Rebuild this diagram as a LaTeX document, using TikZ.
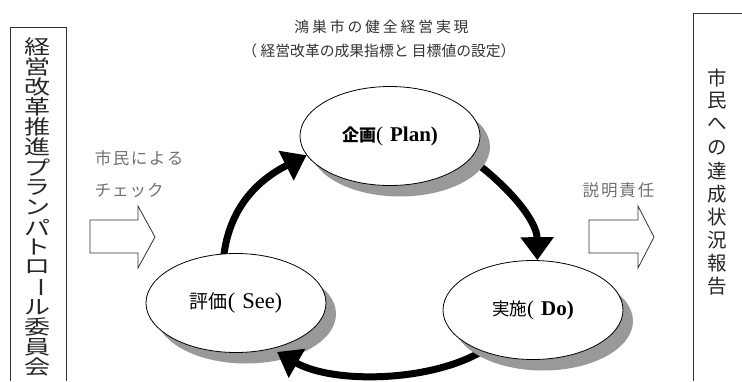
\documentclass[tikz,border=0pt]{standalone}
\usepackage{fontspec}
\usepackage{graphicx}
\setmainfont{Liberation Serif}
\newfontfamily\jp{Noto Sans CJK JP}
\usetikzlibrary{shapes.geometric,arrows.meta,shadows}
\definecolor{shadowgray}{HTML}{999999}
\definecolor{titlegray}{HTML}{333333}
\definecolor{labelgray}{HTML}{707070}
\definecolor{linegray}{HTML}{333333}
\pgfdeclarelayer{arrA}
\pgfdeclarelayer{ellA}
\pgfdeclarelayer{arrB}
\pgfdeclarelayer{ellB}
\pgfsetlayers{arrA,ellA,arrB,ellB,main}
\makeatletter
\newcommand\hspaced[2]{\@tfor\hsch:=#2\do{\makebox[#1]{\hsch}}}
\newcommand\vstackx[3]{\vbox{\offinterlineskip\@tfor\vsch:=#3\do{\hbox to 40pt{\hss\vbox to #1{\vss\hbox{\scalebox{#2}[1]{\vsch}}\vss}\hss}}}}
\makeatother
\newcommand\vbarch{\rotatebox[origin=c]{-90}{ー}}
\begin{document}
\begin{tikzpicture}[x=1pt,y=-1pt,
  ell/.style={ellipse,draw=black,line width=0.8pt,fill=white,minimum width=180pt,minimum height=99pt,inner sep=0pt,
    drop shadow={shadow xshift=10pt,shadow yshift=-11pt,fill=shadowgray,opacity=1,draw=none}},
  bigarrow/.style={line width=7pt,-{Triangle[width=32pt,length=23pt]}},
  blockarrow/.style={draw=linegray,line width=0.8pt,fill=white},
  boxline/.style={draw=linegray,line width=0.9pt},
  titletext/.style={font=\jp\fontsize{14.8}{16}\selectfont,text=titlegray,inner sep=0pt},
  sidelabel/.style={font=\jp\fontsize{16.5}{18}\selectfont,text=labelgray,inner sep=0pt},
  stacktext/.style={inner sep=0pt,anchor=north,text=black!85}
]
\useasboundingbox (0,0) rectangle (742,381);

% frames
\draw[boxline] (10,381) -- (10,27) -- (66,27) -- (66,381);
\draw[boxline] (693,381) -- (693,13) -- (742,13);

% vertical texts
\node[stacktext] (leftstack) at (37.5,37) {\jp\fontsize{20}{20}\selectfont\vstackx{20pt}{1.3}{経営改革推進プランパトロ\vbarch ル委員会}};
\node[stacktext] (rightstack) at (717.5,66) {\jp\fontsize{19.5}{20}\selectfont\vstackx{23.2pt}{1}{市民への達成状況報告}};

% title
\node[titletext] (title1) at (381.5,27) {\hspaced{17.7pt}{鴻巣市の健全経営実現}};
\node[titletext] (title2) at (379,51) {（ 経営改革の成果指標と 目標値の設定）};

% side labels
\node[sidelabel,anchor=west] (check1) at (94,158) {\hspaced{18pt}{市民による}};
\node[sidelabel,anchor=west] (check2) at (94,190) {\hspaced{17.5pt}{チェック}};
\node[sidelabel] (account) at (618.5,190.5) {\hspaced{18.5pt}{説明責任}};

% block arrows
\draw[blockarrow] (90,220) -- (138,220) -- (138,206) -- (155,237) -- (138,268) -- (138,253) -- (90,253) -- cycle;
\draw[blockarrow] (589,220) -- (638,220) -- (638,206) -- (654,237) -- (638,268) -- (638,253) -- (589,253) -- cycle;

% ellipses
\begin{pgfonlayer}{ellA}
\node[ell] (plan) at (390,136) {{\jp\bfseries\fontsize{17}{20}\selectfont 企画}{\fontsize{21}{22}\selectfont(\hspace{7pt}\textbf{Plan)}}};
\node[ell] (see) at (236,303) {{\jp\fontsize{19}{22}\selectfont 評価}{\fontsize{22.5}{24}\selectfont(\hspace{7pt}See)}};
\end{pgfonlayer}
\begin{pgfonlayer}{ellB}
\node[ell] (do) at (533,310) {{\jp\fontsize{17.5}{20}\selectfont 実施}{\fontsize{21}{22}\selectfont(\hspace{7pt}\textbf{Do)}}};
\end{pgfonlayer}

% cycle arrows
\coordinate (seestart) at (223,264);
\coordinate (planstart) at (475,162);
\coordinate (dostart) at (490,346);
\coordinate (seetip) at (277,352);
\begin{pgfonlayer}{arrA}
\draw[bigarrow] (seestart) .. controls (227,205) and (262,178) .. (plan.193.5);
\draw[bigarrow] (planstart) .. controls (512,190) and (537,222) .. (do.85);
\end{pgfonlayer}
\begin{pgfonlayer}{arrB}
\draw[bigarrow] (dostart) .. controls (440,382) and (335,385) .. (seetip);
\end{pgfonlayer}
\end{tikzpicture}
\end{document}
